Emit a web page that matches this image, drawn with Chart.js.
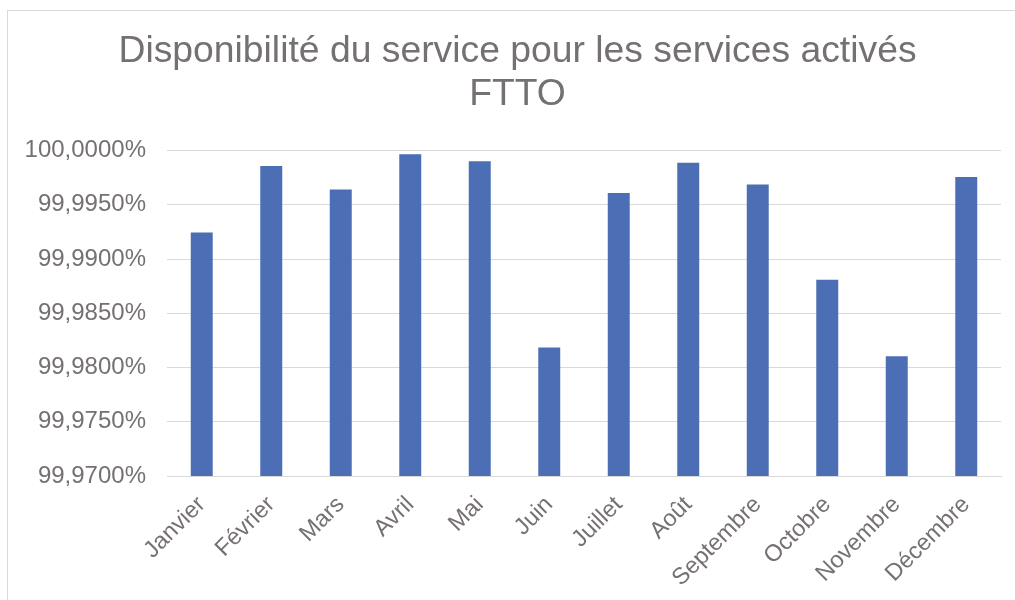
<!DOCTYPE html>
<html>
<head>
<meta charset="utf-8">
<script src="https://cdn.jsdelivr.net/npm/chart.js@4.4.0/dist/chart.umd.min.js"></script>
<style>
  html, body { margin: 0; padding: 0; background: #ffffff; }
  #wrap { position: relative; width: 1015px; height: 600px; overflow: hidden; }
  #frame { position: absolute; left: 7px; top: 10px; width: 1100px; height: 700px; border: 1px solid #d9d9d9; box-sizing: border-box; }
  canvas { position: absolute; left: 0; top: 0; }
</style>
</head>
<body>
<div id="wrap">
  <div id="frame"></div>
  <canvas id="c" width="1015" height="600"></canvas>
</div>
<script>
const titleLines = ['Disponibilité du service pour les services activés', 'FTTO'];
const categories = ['Janvier', 'Février', 'Mars', 'Avril', 'Mai', 'Juin', 'Juillet', 'Août', 'Septembre', 'Octobre', 'Novembre', 'Décembre'];
const availability = [99.99245, 99.99857, 99.99640, 99.99965, 99.99901, 99.98185, 99.99609, 99.99888, 99.99686, 99.98810, 99.98103, 99.99756];
const yTicks = [99.970, 99.975, 99.980, 99.985, 99.990, 99.995, 100.000];

const textColor = '#767171';
const gridColor = '#d9d9d9';
const fontFamily = "'Liberation Sans', Arial, sans-serif";

// shift the title's box so its centre matches the reference (box spans 34..1001)
const titleShift = {
  id: 'titleShift',
  afterLayout(chart) {
    if (chart.titleBlock) { chart.titleBlock.left += 34; }
  }
};

new Chart(document.getElementById('c'), {
  type: 'bar',
  data: {
    labels: categories,
    datasets: [{
      label: 'Disponibilité',
      data: availability,
      backgroundColor: '#4B6EB5',
      borderWidth: 0,
      barPercentage: 0.316,
      categoryPercentage: 1.0
    }]
  },
  plugins: [titleShift],
  options: {
    responsive: false,
    animation: false,
    devicePixelRatio: 1,
    layout: { padding: { left: 0, right: 14, top: 0, bottom: 0 } },
    plugins: {
      legend: { display: false },
      tooltip: { enabled: false },
      title: {
        display: true,
        text: titleLines,
        color: textColor,
        font: { family: fontFamily, size: 37.3, weight: 'normal', lineHeight: 1.16 },
        padding: { top: 30, bottom: 34 }
      }
    },
    scales: {
      x: {
        grid: { display: false, drawTicks: false },
        border: { display: true, color: gridColor, width: 1 },
        ticks: {
          color: textColor,
          font: { family: fontFamily, size: 23.5 },
          minRotation: 45,
          maxRotation: 45,
          autoSkip: false,
          padding: 15
        },
        afterFit: (scale) => { scale.height = 124; }
      },
      y: {
        min: yTicks[0],
        max: yTicks[yTicks.length - 1],
        afterBuildTicks: (scale) => { scale.ticks = yTicks.map(v => ({ value: v })); },
        grid: { color: gridColor, lineWidth: 1, drawTicks: false },
        border: { display: false },
        ticks: {
          color: textColor,
          font: { family: fontFamily, size: 24 },
          padding: 21,
          callback: (v) => Number(v).toFixed(4).replace('.', ',') + '%'
        },
        afterFit: (scale) => { scale.width = 167; }
      }
    }
  }
});
</script>
</body>
</html>
